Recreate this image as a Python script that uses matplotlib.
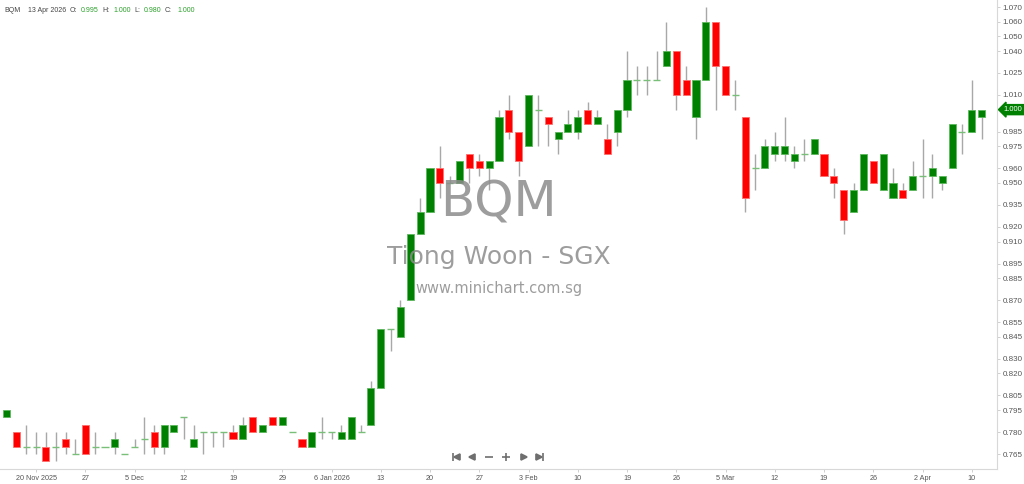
import numpy as np
import matplotlib.pyplot as plt
from matplotlib.transforms import blended_transform_factory

plt.rcParams['font.family'] = ['Liberation Sans', 'DejaVu Sans']

# daily bars, 17 Nov 2025 .. 13 Apr 2026
opens = [0.790, 0.780, 0.770, 0.770, 0.770, 0.770, 0.775, 0.765, 0.785, 0.770,
         0.770, 0.770, 0.765, 0.770, 0.775, 0.780, 0.770, 0.780, 0.790, 0.770,
         0.780, 0.780, 0.780, 0.780, 0.775, 0.790, 0.780, 0.790, 0.785, 0.780,
         0.775, 0.770, 0.780, 0.780, 0.775, 0.775, 0.780, 0.785, 0.810, 0.850,
         0.845, 0.870, 0.915, 0.930, 0.960, 0.950, 0.950, 0.970, 0.965, 0.960,
         0.965, 1.000, 0.985, 0.975, 1.000, 0.995, 0.980, 0.985, 0.985, 1.000,
         0.990, 0.980, 0.985, 1.000, 1.020, 1.020, 1.020, 1.030, 1.040, 1.020,
         0.995, 1.020, 1.060, 1.030, 1.010, 0.995, 0.960, 0.960, 0.970, 0.970,
         0.965, 0.970, 0.970, 0.970, 0.955, 0.945, 0.930, 0.945, 0.965, 0.945,
         0.940, 0.945, 0.945, 0.955, 0.955, 0.950, 0.960, 0.985, 0.985, 0.995]
highs = [0.795, 0.780, 0.785, 0.780, 0.780, 0.780, 0.780, 0.775, 0.785, 0.780,
         0.770, 0.780, 0.765, 0.775, 0.790, 0.785, 0.785, 0.785, 0.790, 0.785,
         0.780, 0.780, 0.780, 0.785, 0.790, 0.790, 0.785, 0.790, 0.790, 0.780,
         0.775, 0.780, 0.790, 0.780, 0.785, 0.790, 0.785, 0.815, 0.850, 0.850,
         0.870, 0.915, 0.940, 0.960, 0.975, 0.955, 0.965, 0.970, 0.970, 0.965,
         1.000, 1.010, 0.985, 1.010, 1.010, 0.995, 0.985, 1.000, 1.000, 1.005,
         1.000, 0.990, 1.000, 1.040, 1.030, 1.030, 1.040, 1.060, 1.040, 1.030,
         1.020, 1.070, 1.060, 1.030, 1.020, 0.995, 0.970, 0.980, 0.985, 0.995,
         0.975, 0.980, 0.980, 0.970, 0.960, 0.945, 0.950, 0.970, 0.965, 0.970,
         0.960, 0.950, 0.965, 0.980, 0.970, 0.955, 0.990, 0.990, 1.020, 1.000]
lows = [0.790, 0.770, 0.765, 0.765, 0.760, 0.760, 0.765, 0.765, 0.765, 0.765,
        0.770, 0.765, 0.765, 0.770, 0.765, 0.765, 0.765, 0.780, 0.775, 0.770,
        0.765, 0.770, 0.770, 0.775, 0.775, 0.780, 0.780, 0.785, 0.785, 0.780,
        0.770, 0.770, 0.775, 0.775, 0.775, 0.775, 0.780, 0.785, 0.810, 0.835,
        0.845, 0.870, 0.915, 0.930, 0.940, 0.950, 0.950, 0.950, 0.955, 0.945,
        0.965, 0.980, 0.955, 0.975, 0.975, 0.975, 0.970, 0.985, 0.980, 0.990,
        0.990, 0.970, 0.975, 0.995, 1.010, 1.010, 1.020, 1.030, 1.000, 1.010,
        0.980, 1.020, 1.000, 1.010, 1.000, 0.930, 0.945, 0.960, 0.965, 0.965,
        0.960, 0.965, 0.970, 0.955, 0.940, 0.915, 0.930, 0.945, 0.950, 0.945,
        0.940, 0.940, 0.945, 0.940, 0.940, 0.945, 0.960, 0.970, 0.985, 0.980]
closes = [0.795, 0.770, 0.770, 0.770, 0.760, 0.770, 0.770, 0.765, 0.765, 0.770,
          0.770, 0.775, 0.765, 0.770, 0.775, 0.770, 0.785, 0.785, 0.790, 0.775,
          0.780, 0.780, 0.780, 0.775, 0.785, 0.780, 0.785, 0.785, 0.790, 0.780,
          0.770, 0.780, 0.780, 0.780, 0.780, 0.790, 0.780, 0.810, 0.850, 0.850,
          0.865, 0.915, 0.930, 0.960, 0.950, 0.950, 0.965, 0.960, 0.960, 0.965,
          0.995, 0.985, 0.965, 1.010, 1.000, 0.990, 0.985, 0.990, 0.995, 0.990,
          0.995, 0.970, 1.000, 1.020, 1.020, 1.020, 1.020, 1.040, 1.010, 1.010,
          1.020, 1.060, 1.030, 1.010, 1.010, 0.940, 0.960, 0.975, 0.975, 0.975,
          0.970, 0.970, 0.980, 0.955, 0.950, 0.925, 0.945, 0.970, 0.950, 0.970,
          0.950, 0.940, 0.955, 0.955, 0.960, 0.955, 0.990, 0.985, 1.000, 1.000]

date_labels = ['20 Nov 2025', '27', '5 Dec', '12', '19', '29', '6 Jan 2026', '13',
               '20', '27', '3 Feb', '10', '19', '26', '5 Mar', '12', '19', '26',
               '2 Apr', '10']
price_ticks = [1.070, 1.060, 1.050, 1.040, 1.025, 1.010, 0.985, 0.975, 0.960,
               0.950, 0.935, 0.920, 0.910, 0.895, 0.885, 0.870, 0.855, 0.845,
               0.830, 0.820, 0.805, 0.795, 0.780, 0.765]

o = np.array(opens); h = np.array(highs); l = np.array(lows); c = np.array(closes)
x = np.arange(len(o))

fig = plt.figure(figsize=(10.24, 4.84), dpi=100)
ax = fig.add_axes([0.0, 0.031, 0.9736, 0.969])

up = c > o
down = c < o
flat = c == o

# wicks
ax.vlines(x, l, h, color='#a8a8a8', lw=1.0, zorder=2)
# bodies
w = 0.72
ax.bar(x[up], (c - o)[up], bottom=o[up], width=w, color='#008000',
       edgecolor='#5cb85c', linewidth=0.6, zorder=3)
ax.bar(x[down], (o - c)[down], bottom=c[down], width=w, color='#ff0000',
       edgecolor='#ff7070', linewidth=0.6, zorder=3)
ax.hlines(o[flat], x[flat] - w / 2, x[flat] + w / 2, color='#79bf79', lw=1.0, zorder=3)

ax.set_xlim(-0.66, 100.56)
ax.set_ylim(0.7548, 1.0748)

ax.set_xticks(x[3::5])
ax.set_xticklabels(date_labels)
ax.yaxis.tick_right()
ax.set_yticks(price_ticks)
ax.set_yticklabels(['%.3f' % v for v in price_ticks])
ax.tick_params(axis='both', colors='#c8c8c8', labelcolor='#555555',
               length=2.5, width=0.6, pad=1.5)
ax.tick_params(axis='y', labelsize=5.8)
ax.tick_params(axis='x', labelsize=5.2)

for s in ['top', 'left']:
    ax.spines[s].set_visible(False)
for s in ['right', 'bottom']:
    ax.spines[s].set_color('#d8d8d8')
    ax.spines[s].set_linewidth(0.8)

# watermark
wm = ['DejaVu Sans']
ax.text(0.5, 0.568, 'BQM', transform=ax.transAxes, ha='center', va='center',
        fontsize=36, color='#8c8c8c', alpha=0.85, zorder=4, family=wm)
ax.text(0.5, 0.452, 'Tiong Woon - SGX', transform=ax.transAxes, ha='center',
        va='center', fontsize=18, color='#8c8c8c', alpha=0.85, zorder=4, family=wm)
ax.text(0.5, 0.385, 'www.minichart.com.sg', transform=ax.transAxes, ha='center',
        va='center', fontsize=10.5, color='#8c8c8c', alpha=0.85, zorder=4, family=wm)

# last price tag
tr = blended_transform_factory(ax.transAxes, ax.transData)
ax.text(1.007, c[-1], '%.3f' % c[-1], transform=tr, ha='left', va='center',
        fontsize=5.5, color='white', zorder=6, clip_on=False,
        bbox=dict(boxstyle='larrow,pad=0.2', fc='#008000', ec='#008000'))

# header
lab, val = '#444444', '#2ca02c'
hdr = [(4, 'BQM', lab), (28, '13 Apr 2026', lab), (70, 'O:', lab),
       (81, '%.3f' % o[-1], val), (102, 'H:', lab), (113, '%.3f' % h[-1], val),
       (134, 'L:', lab), (144, '%.3f' % l[-1], val), (165, 'C:', lab),
       (177, '%.3f' % c[-1], val)]
for xp, txt, col in hdr:
    fig.text(xp / 1024, 1 - 10 / 484, txt, fontsize=5.0, color=col,
             ha='left', va='center')

# navigation buttons
nav_y = 0.026
nav = [(0.4545, '|'), (0.4585, '<'), (0.4735, '<'), (0.4905, '_'),
       (0.5075, '+'), (0.5255, '>'), (0.5405, '>'), (0.5445, '|')]
for nx, m in nav:
    ms = 5 if m in '<>' else 6
    ax.plot([nx], [nav_y], marker=m, ms=ms, color='#6e6e6e', mew=1.2,
            transform=ax.transAxes, clip_on=False, zorder=6)

fig.savefig('out.png', dpi=100)
